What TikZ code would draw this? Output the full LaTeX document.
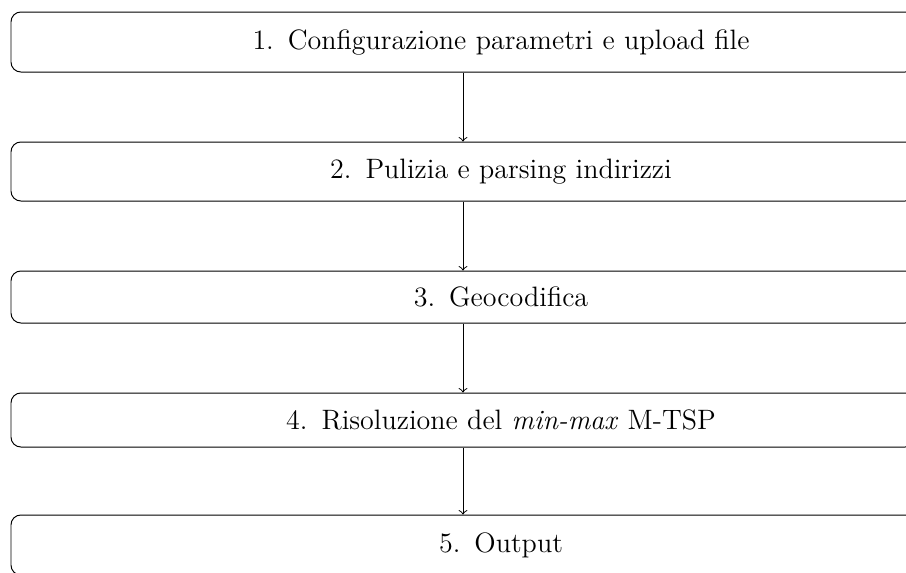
\documentclass[tikz,border=0pt]{standalone}
\newlength{\pxlen}
\setlength{\pxlen}{0.4065pt}
\begin{document}
\begin{tikzpicture}[x=0.4065pt, y=-0.4065pt,
  stepbox/.style={draw, rounded corners=4pt, line width=0.4pt,
    font=\fontsize{11.4}{13.8}\selectfont,
    text width={904\pxlen}, align=center, inner xsep=0pt, inner ysep=0pt},
  flow/.style={->, line width=0.4pt}]
\useasboundingbox (0,0) rectangle (906,572);
\node[stepbox, minimum height={60\pxlen}] (b1) at (463,42) {\hspace*{76\pxlen}1. Configurazione parametri e upload file};
\node[stepbox, minimum height={59\pxlen}] (b2) at (463,171.5) {\hspace*{76\pxlen}2. Pulizia e parsing indirizzi};
\node[stepbox, minimum height={52\pxlen}] (b3) at (463,297) {\hspace*{76\pxlen}3. Geocodifica};
\node[stepbox, minimum height={54\pxlen}] (b4) at (463,420) {\hspace*{76\pxlen}4. Risoluzione del \emph{min-max} M-TSP};
\node[stepbox, minimum height={60\pxlen}] (b5) at (463,545) {\hspace*{76\pxlen}5. Output};
\draw[flow] (b1) -- (b2);
\draw[flow] (b2) -- (b3);
\draw[flow] (b3) -- (b4);
\draw[flow] (b4) -- (b5);
\end{tikzpicture}
\end{document}
